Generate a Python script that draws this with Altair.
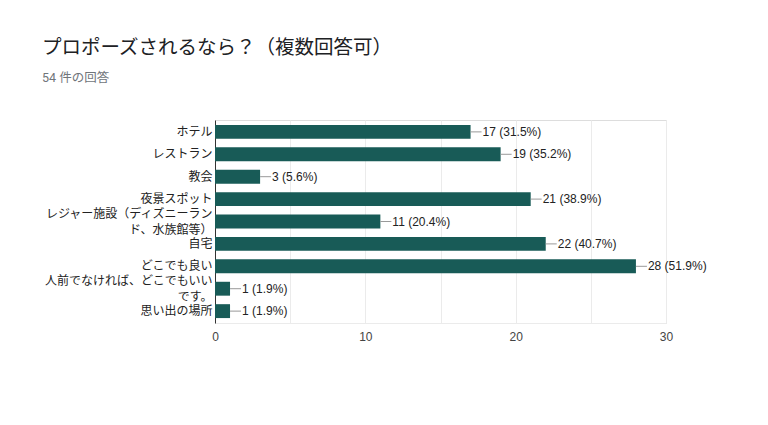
import altair as alt
import pandas as pd

categories = [
    "ホテル",
    "レストラン",
    "教会",
    "夜景スポット",
    "レジャー施設（ディズニーラン\nド、水族館等）",
    "自宅",
    "どこでも良い",
    "人前でなければ、どこでもいい\nです。",
    "思い出の場所",
]
counts = [17, 19, 3, 21, 11, 22, 28, 1, 1]
percents = ["31.5%", "35.2%", "5.6%", "38.9%", "20.4%", "40.7%", "51.9%", "1.9%", "1.9%"]

df = pd.DataFrame({
    "cat": categories,
    "count": counts,
    "label": [f"{c} ({p})" for c, p in zip(counts, percents)],
})

TFONT = 'Roboto, "Noto Sans CJK JP", sans-serif'
FONT = '"Liberation Sans", Arial, "Noto Sans CJK JP", sans-serif'
BAR = "#185b57"

y_enc = alt.Y(
    "cat:N",
    sort=categories,
    title=None,
    scale=alt.Scale(paddingInner=0.38, paddingOuter=0.22),
    axis=alt.Axis(
        ticks=False,
        labelPadding=3,
        labelLimit=400,
        labelFontSize=12,
        labelColor="#222222",
        labelFont=FONT,
        labelLineHeight=16,
        labelExpr="split(datum.label, '\\n')",
        labelOffset={"condition": {"test": "indexof(datum.value, '\\n') >= 0", "value": -8}, "value": 0},
        domainColor="#333333",
        grid=False,
    ),
)

x_enc = alt.X(
    "count:Q",
    title=None,
    scale=alt.Scale(domain=[0, 30], nice=False),
    axis=alt.Axis(
        values=[0, 5, 10, 15, 20, 25, 30],
        labelExpr="datum.value % 10 == 0 ? datum.label : ''",
        ticks=False,
        labelFlush=False,
        labelPadding=8,
        labelFontSize=12,
        labelColor="#444444",
        labelFont=FONT,
        gridColor="#ebebeb",
        domainColor="#ebebeb",
    ),
)

base = alt.Chart(df)

bars = base.mark_bar(color=BAR).encode(x=x_enc, y=y_enc)
connectors = base.mark_rule(color="#999999", x2Offset=11, strokeWidth=1).encode(
    x="count:Q", x2="count:Q", y=alt.Y("cat:N", sort=categories)
)
texts = base.mark_text(align="left", dx=12, fontSize=12, color="#222222", font=FONT).encode(
    x="count:Q", y=alt.Y("cat:N", sort=categories), text="label:N"
)

chart = (
    alt.layer(bars, connectors, texts)
    .properties(
        width=451,
        height=203,
        autosize=alt.AutoSizeParams(type="none"),
        padding={"left": 207, "top": 112, "right": 94, "bottom": 94},
        title=alt.TitleParams(
            text="プロポーズされるなら？（複数回答可）",
            subtitle="54 件の回答",
            anchor="start",
            frame="group",
            dx=-173,
            offset=35,
            fontSize=19.5,
            fontWeight="normal",
            color="#202124",
            font=TFONT,
            subtitleFont=TFONT,
            subtitleFontSize=12.5,
            subtitleColor="#70757a",
            subtitlePadding=13,
        ),
    )
    .configure_view(stroke="#ebebeb")
    .configure(background="white")
)

chart.save("out.html", embed_options={"renderer": "svg", "actions": False})
